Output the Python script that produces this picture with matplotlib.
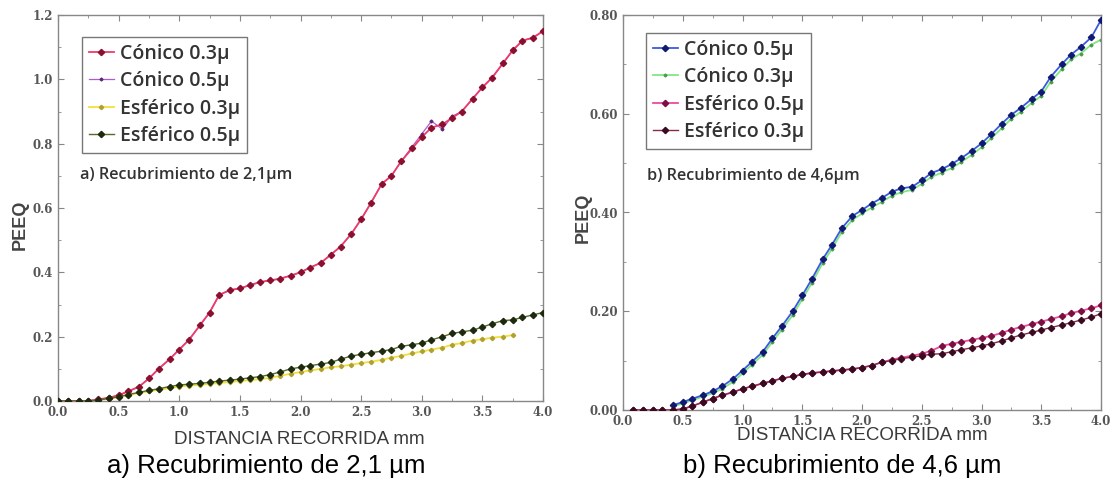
import matplotlib
matplotlib.use("Agg")
import matplotlib.pyplot as plt
import numpy as np
from matplotlib.ticker import MultipleLocator, FormatStrFormatter

# ---------------- data ----------------
x_grid = [0.00, 0.08, 0.17, 0.25, 0.33, 0.42, 0.50, 0.58, 0.67, 0.75, 0.83, 0.92,
          1.00, 1.08, 1.17, 1.25, 1.33, 1.42, 1.50, 1.58, 1.67, 1.75, 1.83, 1.92,
          2.00, 2.08, 2.17, 2.25, 2.33, 2.42, 2.50, 2.58, 2.67, 2.75, 2.83, 2.92,
          3.00, 3.08, 3.17, 3.25, 3.33, 3.42, 3.50, 3.58, 3.67, 3.75, 3.83, 3.92, 4.00]

# Panel a) Recubrimiento de 2,1 um
a_conico_03 = [0.0, 0.0, 0.0, 0.0, 0.005, 0.01, 0.018, 0.03, 0.045, 0.07, 0.10, 0.13,
               0.16, 0.19, 0.235, 0.275, 0.33, 0.345, 0.35, 0.36, 0.37, 0.375, 0.38, 0.39,
               0.40, 0.415, 0.43, 0.455, 0.48, 0.52, 0.565, 0.615, 0.675, 0.70, 0.745, 0.785,
               0.82, 0.85, 0.86, 0.88, 0.90, 0.94, 0.975, 1.005, 1.05, 1.09, 1.12, 1.13, 1.15]
a_conico_05 = [0.0, 0.0, 0.0, 0.0, 0.005, 0.01, 0.018, 0.03, 0.045, 0.07, 0.10, 0.13,
               0.16, 0.19, 0.235, 0.275, 0.33, 0.345, 0.35, 0.36, 0.37, 0.375, 0.38, 0.39,
               0.40, 0.415, 0.43, 0.455, 0.48, 0.52, 0.565, 0.615, 0.675, 0.70, 0.745, 0.79,
               0.83, 0.87, 0.845, 0.885, 0.90, 0.94, 0.975, 1.005, 1.05, 1.09, 1.12, 1.13, 1.15]
a_esferico_03 = [0.0, 0.0, 0.0, 0.0, 0.003, 0.007, 0.012, 0.018, 0.025, 0.03, 0.035, 0.04,
                 0.045, 0.048, 0.05, 0.053, 0.056, 0.059, 0.062, 0.065, 0.068, 0.072, 0.078, 0.085,
                 0.09, 0.095, 0.10, 0.105, 0.108, 0.113, 0.118, 0.122, 0.128, 0.135, 0.14, 0.148,
                 0.154, 0.16, 0.166, 0.175, 0.18, 0.188, 0.192, 0.197, 0.20, 0.205]
a_esferico_05 = [0.0, 0.0, 0.0, 0.0, 0.003, 0.008, 0.013, 0.02, 0.027, 0.033, 0.038, 0.045,
                 0.05, 0.052, 0.055, 0.058, 0.062, 0.065, 0.068, 0.072, 0.076, 0.082, 0.09, 0.10,
                 0.105, 0.11, 0.115, 0.12, 0.13, 0.14, 0.145, 0.15, 0.155, 0.16, 0.17, 0.175,
                 0.18, 0.19, 0.20, 0.21, 0.215, 0.22, 0.23, 0.24, 0.25, 0.252, 0.26, 0.268, 0.275]

# Panel b) Recubrimiento de 4,6 um
b_x_conico = x_grid[5:]
b_conico_05 = [0.01, 0.016, 0.023, 0.03, 0.038, 0.048, 0.063,
               0.08, 0.098, 0.118, 0.145, 0.17, 0.20, 0.232, 0.265, 0.305, 0.335, 0.368, 0.393,
               0.405, 0.418, 0.43, 0.442, 0.449, 0.452, 0.465, 0.48, 0.488, 0.498, 0.51, 0.525,
               0.54, 0.558, 0.58, 0.598, 0.612, 0.63, 0.645, 0.675, 0.70, 0.72, 0.735, 0.755, 0.79]
b_conico_03 = [0.008, 0.013, 0.02, 0.027, 0.034, 0.043, 0.057,
               0.074, 0.092, 0.112, 0.138, 0.163, 0.192, 0.224, 0.257, 0.297, 0.327, 0.36, 0.385,
               0.398, 0.41, 0.422, 0.434, 0.441, 0.446, 0.458, 0.472, 0.481, 0.49, 0.502, 0.517,
               0.532, 0.55, 0.571, 0.59, 0.604, 0.622, 0.636, 0.665, 0.69, 0.71, 0.722, 0.74, 0.75]
b_x_esferico = x_grid[1:]
b_esferico_05 = [0.0, 0.0, 0.0, 0.0, 0.0, 0.002, 0.008, 0.016, 0.023, 0.03, 0.036,
                 0.043, 0.048, 0.054, 0.059, 0.064, 0.068, 0.072, 0.075, 0.077, 0.079, 0.081, 0.083,
                 0.086, 0.09, 0.097, 0.102, 0.106, 0.11, 0.114, 0.12, 0.13, 0.134, 0.138, 0.142,
                 0.146, 0.15, 0.156, 0.163, 0.168, 0.174, 0.179, 0.184, 0.19, 0.196, 0.201, 0.206, 0.212]
b_esferico_03 = [0.0, 0.0, 0.0, 0.0, 0.0, 0.002, 0.008, 0.016, 0.023, 0.03, 0.036,
                 0.043, 0.048, 0.054, 0.059, 0.064, 0.068, 0.072, 0.075, 0.077, 0.079, 0.081, 0.083,
                 0.086, 0.09, 0.097, 0.1, 0.104, 0.107, 0.11, 0.113, 0.114, 0.118, 0.122, 0.126,
                 0.13, 0.134, 0.14, 0.146, 0.152, 0.157, 0.162, 0.167, 0.172, 0.177, 0.182, 0.188, 0.195]

labels_a = ["Cónico 0.3µ", "Cónico 0.5µ", "Esférico 0.3µ", "Esférico 0.5µ"]
labels_b = ["Cónico 0.5µ", "Cónico 0.3µ", "Esférico 0.5µ", "Esférico 0.3µ"]
inner_a = "a) Recubrimiento de 2,1µm"
inner_b = "b) Recubrimiento de 4,6µm"
caption_a = "a) Recubrimiento de 2,1 µm"
caption_b = "b) Recubrimiento de 4,6 µm"
xlabel = "DISTANCIA RECORRIDA mm"
ylabel = "PEEQ"

# ---------------- figure ----------------
W, H = 1115, 483
fig = plt.figure(figsize=(W / 100, H / 100), dpi=100)
fig.patch.set_facecolor("white")


def px_axes(l, t, r, b):
    return fig.add_axes([l / W, (H - b) / H, (r - l) / W, (b - t) / H])


ax1 = px_axes(58, 15, 543, 401)
ax2 = px_axes(623, 15, 1101, 410)

tick_color = "#555555"
for ax in (ax1, ax2):
    for s in ax.spines.values():
        s.set_color("#888888")
        s.set_linewidth(1.0)
    ax.tick_params(which="both", direction="in", top=True, right=True, colors="#888888",
                   labelcolor=tick_color, labelsize=8.5)
    ax.tick_params(which="major", length=4)
    ax.tick_params(which="minor", length=2)
    ax.xaxis.set_major_locator(MultipleLocator(0.5))
    ax.xaxis.set_minor_locator(MultipleLocator(0.25))
    ax.yaxis.set_minor_locator(MultipleLocator(0.1))
    ax.yaxis.set_major_locator(MultipleLocator(0.2))
    ax.set_xlim(0, 4.0)
    for lab in ax.get_xticklabels() + ax.get_yticklabels():
        lab.set_fontfamily("DejaVu Serif")
        lab.set_fontweight("bold")

ax1.set_ylim(0, 1.2)
ax1.xaxis.set_major_formatter(FormatStrFormatter("%.1f"))
ax1.yaxis.set_major_formatter(FormatStrFormatter("%.1f"))
ax2.set_ylim(0, 0.8)
ax2.xaxis.set_major_formatter(FormatStrFormatter("%.1f"))
ax2.yaxis.set_major_formatter(FormatStrFormatter("%.2f"))

ms = 3.2
# panel a
ax1.plot(x_grid, a_conico_03, color="#ee3a6c", lw=1.3, marker="D", ms=ms,
         mfc="#8a1030", mec="#8a1030", label=labels_a[0], zorder=3)
ax1.plot(x_grid, a_conico_05, color="#b05ad0", lw=0.9, marker="D", ms=1.5,
         mfc="#5a2a70", mec="#5a2a70", label=labels_a[1], zorder=2)
ax1.plot(x_grid[:len(a_esferico_03)], a_esferico_03, color="#f2e03a", lw=1.3, marker="D",
         ms=2.2, mfc="#b0a030", mec="#b0a030", label=labels_a[2], zorder=2)
ax1.plot(x_grid, a_esferico_05, color="#5a6a2a", lw=1.0, marker="D", ms=ms,
         mfc="#1e2a10", mec="#1e2a10", label=labels_a[3], zorder=3)

# panel b
ax2.plot(b_x_conico, b_conico_05, color="#3a5ae0", lw=1.3, marker="D", ms=ms,
         mfc="#101a70", mec="#101a70", label=labels_b[0], zorder=3)
ax2.plot(b_x_conico, b_conico_03, color="#80e880", lw=1.3, marker="D", ms=1.5,
         mfc="#4a9a4a", mec="#4a9a4a", label=labels_b[1], zorder=2)
ax2.plot(b_x_esferico, b_esferico_05, color="#ee4aa0", lw=1.3, marker="D", ms=ms,
         mfc="#7a1040", mec="#7a1040", label=labels_b[2], zorder=3)
ax2.plot(b_x_esferico, b_esferico_03, color="#8a2a4a", lw=1.0, marker="D", ms=ms,
         mfc="#3a0a20", mec="#3a0a20", label=labels_b[3], zorder=3)

leg_kw = dict(prop={"family": "Open Sans", "size": 14, "weight": "semibold"}, frameon=True,
              fancybox=False, handlelength=1.3, handletextpad=0.3, borderpad=0.35,
              labelspacing=0.38, borderaxespad=0.0)
leg1 = ax1.legend(loc="upper left", bbox_to_anchor=((82 - 58) / 485, (401 - 37) / 386), **leg_kw)
leg2 = ax2.legend(loc="upper left", bbox_to_anchor=((646 - 623) / 478, (410 - 33) / 395), **leg_kw)
for leg in (leg1, leg2):
    leg.get_frame().set_edgecolor("#555555")
    leg.get_frame().set_linewidth(1.0)
    for t in leg.get_texts():
        t.set_color("#333333")

ax1.text((80 - 58) / 485, (401 - 175) / 386, inner_a, transform=ax1.transAxes,
         family="Open Sans", fontsize=11.7, fontweight="semibold", color="#333333",
         va="center", ha="left")
ax2.text((647 - 623) / 478, (410 - 176) / 395, inner_b, transform=ax2.transAxes,
         family="Open Sans", fontsize=11.7, fontweight="semibold", color="#333333",
         va="center", ha="left")

# axis labels placed in pixel positions
for cx, cy in ((299, 440), (862, 436)):
    fig.text(cx / W, 1 - cy / H, xlabel, family="Liberation Sans", fontsize=13.5,
             color="#3a3a3a", ha="center", va="center")
fig.text(20 / W, 1 - 225 / H, ylabel, family="Liberation Sans", fontsize=13,
         fontweight="bold", color="#444444", ha="center", va="center", rotation=90)
fig.text(583 / W, 1 - 218 / H, ylabel, family="Liberation Sans", fontsize=13,
         fontweight="bold", color="#444444", ha="center", va="center", rotation=90)

fig.text(266 / W, 1 - 466 / H, caption_a, family="Liberation Sans", fontsize=18.5,
         color="black", ha="center", va="center")
fig.text(842 / W, 1 - 466 / H, caption_b, family="Liberation Sans", fontsize=18.5,
         color="black", ha="center", va="center")

fig.savefig("out.png", dpi=100, facecolor="white")
